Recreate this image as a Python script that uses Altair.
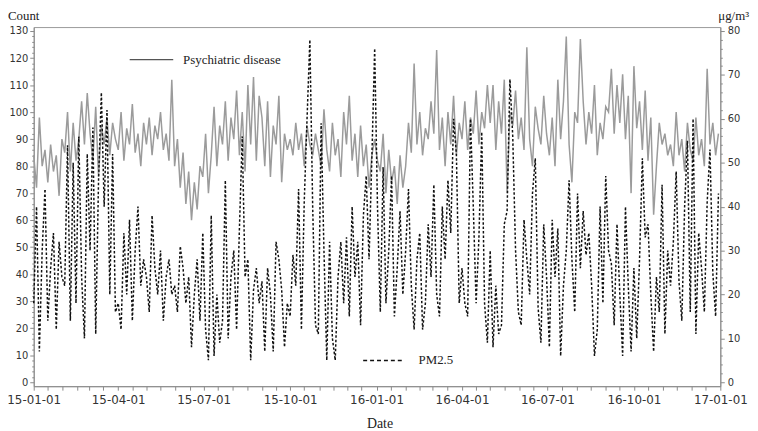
import altair as alt
import pandas as pd

# ---- data (one value every 3 days) ----
psych_2015 = [
    84, 72, 98, 80, 86, 74, 88, 78, 84, 69, 90,
    85, 100, 78, 96, 82, 90, 104, 88, 107,
    92, 82, 102, 76, 95, 88, 98, 84, 96, 90,
    86, 100, 82, 94, 88, 103, 85, 92, 80, 96,
    88, 98, 84, 95, 90, 100, 86, 92, 82, 112,
    80, 90, 72, 85, 66, 78, 60, 74, 64, 80,
    76, 92, 70, 84, 102, 80, 95, 88, 104, 82, 98,
    90, 108, 84, 100, 78, 110, 88, 113, 82, 106,
    98, 80, 104, 76, 95, 88, 106, 74, 92, 86,
    90, 84, 96, 86, 92, 80, 95, 88, 84, 92, 86,
    80, 101, 86, 78, 96, 84, 90, 76, 100, 88,
    106, 82, 92, 76, 95, 80, 88, 72, 84, 90,
]
psych_2016 = [
    82, 78, 92, 70, 86, 74, 80, 66, 84, 72,
    80, 96, 85, 118, 88, 100, 84, 94, 90, 104,
    92, 123, 86, 98, 80, 100, 88, 106, 84, 96,
    90, 104, 86, 98, 92, 108, 88, 100, 94, 110,
    96, 110, 86, 104, 92, 112, 70, 100, 95, 108, 90,
    98, 86, 124, 90, 80, 102, 94, 88, 106, 92,
    84, 98, 80, 112, 90, 104, 128, 88, 74, 100,
    96, 127, 104, 88, 100, 92, 110, 84, 96, 90, 102,
    100, 116, 92, 110, 96, 114, 90, 106, 70, 117,
    94, 104, 86, 108, 82, 98, 62, 80, 96, 88,
    92, 84, 88, 80, 100, 84, 90, 78, 96, 86,
    82, 98, 84, 90, 80, 116, 88, 96, 84, 92,
]
pm25_2015 = [
    18, 40, 7, 30, 44, 14, 26, 34, 12, 32, 24,
    22, 54, 14, 50, 18, 56, 24, 10, 52,
    30, 58, 11, 46, 66, 40, 62, 20, 52, 16,
    18, 12, 34, 20, 37, 14, 30, 40, 22, 28,
    24, 16, 38, 26, 20, 30, 14, 24, 28, 20,
    22, 16, 31, 26, 18, 24, 8, 20, 28, 14,
    34, 12, 5, 38, 6, 20, 9, 14, 46, 10, 24,
    30, 12, 35, 56, 24, 28, 5, 21, 26, 18,
    23, 7, 26, 20, 7, 32, 28, 21, 8, 18,
    15, 29, 22, 44, 12, 41, 60, 78, 40, 13, 11,
    59, 30, 5, 32, 10, 5, 24, 32, 18, 33,
    15, 40, 24, 32, 13, 38, 47, 28, 51, 76,
]
pm25_2016 = [
    40, 16, 49, 18, 30, 47, 15, 26, 39, 20,
    30, 44, 22, 12, 28, 34, 12, 18, 36, 24,
    45, 20, 15, 40, 28, 46, 34, 60, 52, 18,
    26, 18, 15, 60, 40, 18, 33, 57, 18, 9,
    30, 8, 22, 11, 13, 36, 39, 69, 56, 30, 16,
    13, 37, 28, 20, 43, 51, 17, 9, 36, 24,
    8, 37, 24, 35, 6, 22, 30, 46, 28, 16,
    43, 26, 39, 29, 34, 22, 6, 12, 40, 18, 47,
    30, 27, 13, 36, 20, 6, 40, 22, 7, 26,
    10, 28, 51, 33, 36, 20, 7, 24, 16, 45,
    11, 30, 22, 32, 48, 23, 14, 40, 55, 16,
    60, 11, 34, 26, 16, 41, 53, 25, 15, 43,
]
start_date = "2015-01-01"
step_days = 3

psych = psych_2015 + psych_2016
pm25 = pm25_2015 + pm25_2016
n = min(len(psych), len(pm25))
dates = pd.date_range(start_date, periods=n, freq=f"{step_days}D").strftime("%Y-%m-%d")
df = pd.DataFrame({"date": list(dates), "psych": psych[:n], "pm25": pm25[:n]})

# ---- axes ----
xticks = []
for yr in (2015, 2016):
    for m in range(1, 13):
        xticks.append(alt.DateTime(year=yr, month=m, date=1, utc=True))
        xticks.append(alt.DateTime(year=yr, month=m, date=16, utc=True))
xticks.append(alt.DateTime(year=2017, month=1, date=1, utc=True))

xdom = [alt.DateTime(year=2015, month=1, date=1, utc=True),
        alt.DateTime(year=2017, month=1, date=1, utc=True)]

x_enc = alt.X(
    "date:T",
    scale=alt.Scale(type="utc", domain=xdom),
    axis=alt.Axis(
        values=xticks, title=None, grid=False, tickSize=4, labelPadding=4,
        labelFontSize=12, labelOverlap=False, labelFlush=False,
        labelExpr="utcdate(datum.value) === 1 && utcmonth(datum.value) % 3 === 0 ? utcFormat(datum.value, '%y-%m-%d') : ''",
    ),
)

minor_tick = {"condition": {"test": "datum.value % 10 === 0", "value": 4}, "value": 2}
ylab = "datum.value % 10 === 0 ? datum.label : ''"

psych_line = alt.Chart(df).mark_line(color="#9b9b9b", strokeWidth=1.5).encode(
    x=x_enc,
    y=alt.Y("psych:Q",
            scale=alt.Scale(domain=[-1.46, 131.46], nice=False, zero=False),
            axis=alt.Axis(orient="left", values=list(range(0, 131, 2)), labelExpr=ylab,
                          tickSize=minor_tick, title=None, grid=False, labelOverlap=False,
                          labelFontSize=10, labelPadding=2)),
)

pm_line = alt.Chart(df).mark_line(color="#111111", strokeWidth=1.5, strokeDash=[2.5, 2]).encode(
    x=x_enc,
    y=alt.Y("pm25:Q",
            scale=alt.Scale(domain=[-0.9, 80.9], nice=False, zero=False),
            axis=alt.Axis(orient="right", values=list(range(0, 81, 2)), labelExpr=ylab,
                          tickSize=minor_tick, title=None, grid=False, labelOverlap=False,
                          labelFontSize=10, labelPadding=3)),
)

one = pd.DataFrame({"k": [0]})
serif = "Liberation Serif"

leg1_line = alt.Chart(one).mark_rule(color="#555555", strokeWidth=1.3).encode(
    x=alt.value(97), x2=alt.value(141), y=alt.value(33))
leg1_text = alt.Chart(one).mark_text(text="Psychiatric disease", align="left", baseline="middle",
                                     font=serif, fontSize=13, color="#222").encode(
    x=alt.value(151), y=alt.value(33))
leg2_line = alt.Chart(one).mark_rule(color="#111111", strokeWidth=1.4, strokeDash=[4, 3]).encode(
    x=alt.value(333), x2=alt.value(373), y=alt.value(337))
leg2_text = alt.Chart(one).mark_text(text="PM2.5", align="left", baseline="middle",
                                     font=serif, fontSize=13, color="#222").encode(
    x=alt.value(389), y=alt.value(337))

t_count = alt.Chart(one).mark_text(text="Count", align="left", baseline="top",
                                   font=serif, fontSize=13, color="#222").encode(
    x=alt.value(-26), y=alt.value(-17))
t_unit = alt.Chart(one).mark_text(text="μg/m³", align="right", baseline="top",
                                  font=serif, fontSize=13, color="#222").encode(
    x=alt.value(723), y=alt.value(-17))
t_date = alt.Chart(one).mark_text(text="Date", align="center", baseline="middle",
                                  font=serif, fontSize=14, color="#222").encode(
    x=alt.value(350), y=alt.value(401))

chart = alt.layer(
    psych_line, pm_line, leg1_line, leg1_text, leg2_line, leg2_text, t_count, t_unit, t_date
).resolve_scale(y="independent").properties(
    width=694, height=363,
    autosize=alt.AutoSizeParams(type="none"),
    padding={"left": 26, "top": 17, "right": 30, "bottom": 43},
).configure_axis(
    domainColor="#8a8a8a", tickColor="#8a8a8a", labelColor="#333333", labelFont="DejaVu Sans",
).configure_view(stroke="#9a9a9a", strokeWidth=1)

chart.save("out.html", embed_options={"renderer": "svg", "actions": False})
